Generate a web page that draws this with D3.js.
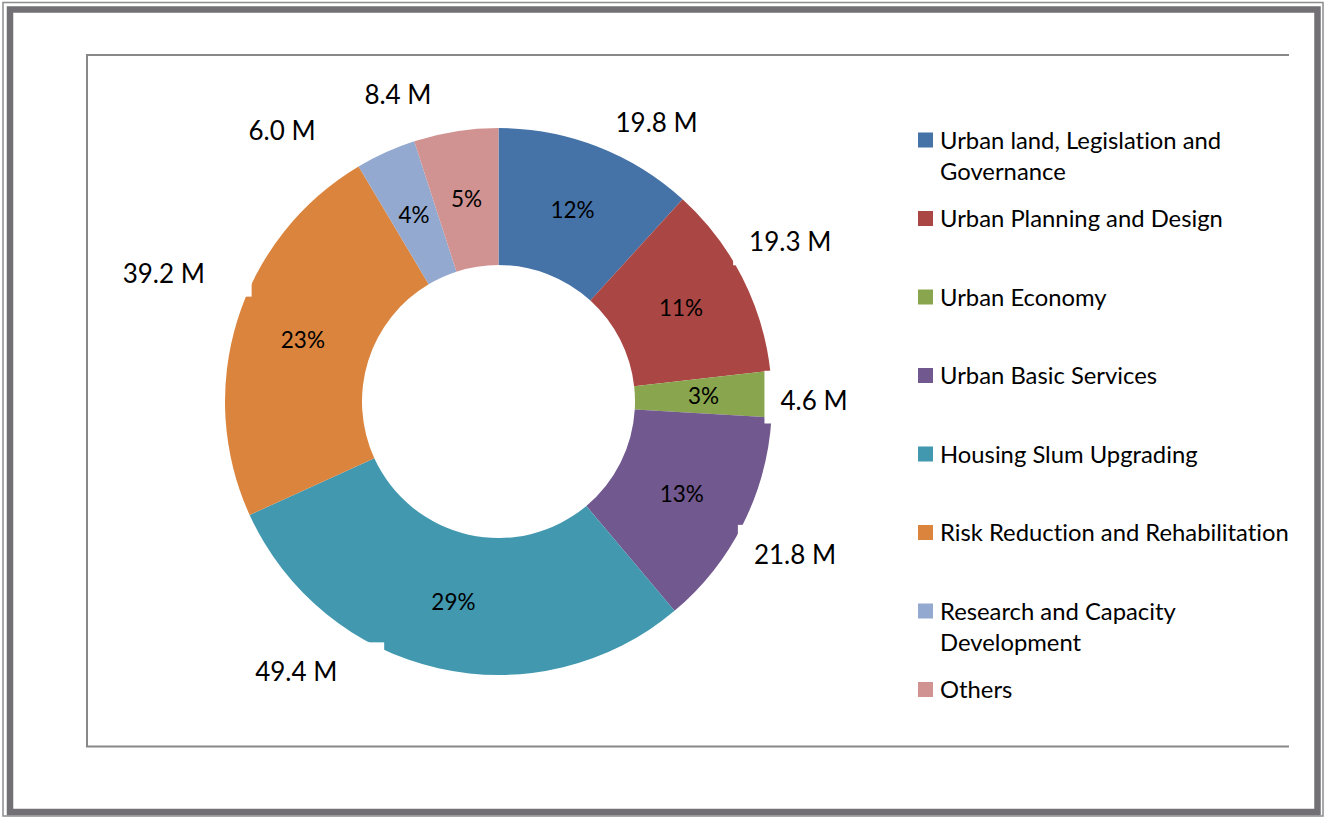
<!DOCTYPE html>
<html>
<head>
<meta charset="utf-8">
<script src="https://cdn.jsdelivr.net/npm/d3@7"></script>
<style>
  html, body { margin: 0; padding: 0; background: #fff; }
  svg { display: block; }
  text { font-family: Lato, "Open Sans", sans-serif; fill: #000; font-variant-ligatures: none; }
</style>
</head>
<body>
<svg id="chart" width="1325" height="818"></svg>
<script>
// ---- data ----
const categories = [
  "Urban land, Legislation and Governance",
  "Urban Planning and Design",
  "Urban Economy",
  "Urban Basic Services",
  "Housing Slum Upgrading",
  "Risk Reduction and Rehabilitation",
  "Research and Capacity Development",
  "Others"
];
const valuesM = [19.8, 19.3, 4.6, 21.8, 49.4, 39.2, 6.0, 8.4];
const colors = ["#4572A7", "#AA4643", "#89A54E", "#71588F", "#4198AF", "#DB843D", "#93A9CF", "#D19392"];

// ---- layout (label nudges relative to each slice's mid-angle: [degrees, px beyond outer radius]) ----
const labelNudge = [[8.4, 47], [-1.6, 59], [1.3, 42], [0.6, 60], [24.1, 64], [3.6, 85], [-14.3, 73], [-9.2, 49]];

const svg = d3.select("#chart");

// outer double frame
svg.append("rect").attr("x", 3).attr("y", 2.5).attr("width", 1320).attr("height", 813.5)
  .attr("fill", "none").attr("stroke", "#8c8b8e").attr("stroke-width", 1.5);
svg.append("rect").attr("x", 10).attr("y", 9.5).attr("width", 1307.5).attr("height", 802.5)
  .attr("fill", "none").attr("stroke", "#727074").attr("stroke-width", 6.5);

// plot-area frame (left, top, bottom)
const pa = {x0: 87, y0: 55, x1: 1289, y1: 746.5};
svg.append("path")
  .attr("d", `M${pa.x1},${pa.y0}H${pa.x0}V${pa.y1}H${pa.x1}`)
  .attr("fill", "none").attr("stroke", "#888888").attr("stroke-width", 2);

// doughnut
const cx = 498.5, cy = 401.5, R = 273.5, r0 = 136.5;
const total = d3.sum(valuesM);
const pie = d3.pie().sort(null).value(d => d)(valuesM);
const arc = d3.arc().innerRadius(r0).outerRadius(R);
const g = svg.append("g").attr("transform", `translate(${cx},${cy})`);
g.selectAll("path.slice").data(pie).enter().append("path")
  .attr("class", "slice")
  .attr("d", arc)
  .attr("fill", (d, i) => colors[i]);

// percentage labels
const pctFs = 22.5;
const midR = (R + r0) / 2;
g.selectAll("text.pct").data(pie).enter().append("text")
  .attr("class", "pct")
  .attr("text-anchor", "middle")
  .attr("font-size", pctFs)
  .attr("x", d => midR * Math.sin((d.startAngle + d.endAngle) / 2))
  .attr("y", d => -midR * Math.cos((d.startAngle + d.endAngle) / 2) + pctFs * 0.36)
  .text(d => Math.round(d.value / total * 100) + "%");

// outer value labels with white text boxes
const valFs = 26;
const outer = g.append("g");
pie.forEach((d, i) => {
  const a = (d.startAngle + d.endAngle) / 2 + labelNudge[i][0] * Math.PI / 180;
  const rr = R + labelNudge[i][1];
  const x = rr * Math.sin(a), y = -rr * Math.cos(a);
  const t = outer.append("text")
    .attr("text-anchor", "middle")
    .attr("font-size", valFs)
    .attr("x", x).attr("y", y + valFs * 0.36)
    .text(d.value.toFixed(1) + " M");
  const w = t.node().getComputedTextLength();
  const capTop = y - valFs * 0.36, base = y + valFs * 0.36;
  outer.insert("rect", "text")
    .attr("x", x - w / 2 - 16).attr("y", capTop - 20)
    .attr("width", 145).attr("height", base - capTop + 34)
    .attr("fill", "#fff");
});

// legend
const legX = 918, legTextX = 940, legY0 = 140, legStep = 78.5, sq = 15;
const legFsBase = 24;
const probe = svg.append("text").attr("font-size", legFsBase).text("Risk Reduction and Rehabilitation");
const legFs = legFsBase * 349 / probe.node().getComputedTextLength();
probe.remove();
const lineH = 31, maxW = 352;
const leg = svg.append("g");
categories.forEach((c, i) => {
  const yc = legY0 + i * legStep;
  leg.append("rect").attr("x", legX).attr("y", yc - sq / 2).attr("width", sq).attr("height", sq)
    .attr("fill", colors[i]);
  const t = leg.append("text").attr("x", legTextX).attr("font-size", legFs);
  const words = c.split(" ");
  let line = [], lines = [];
  const meas = svg.append("text").attr("font-size", legFs);
  words.forEach(wd => {
    const test = line.concat([wd]).join(" ");
    meas.text(test);
    if (meas.node().getComputedTextLength() > maxW && line.length) {
      lines.push(line.join(" "));
      line = [wd];
    } else line.push(wd);
  });
  lines.push(line.join(" "));
  meas.remove();
  lines.forEach((ln, k) => {
    t.append("tspan").attr("x", legTextX).attr("y", yc + legFs * 0.36 + k * lineH).text(ln);
  });
});
</script>
</body>
</html>
